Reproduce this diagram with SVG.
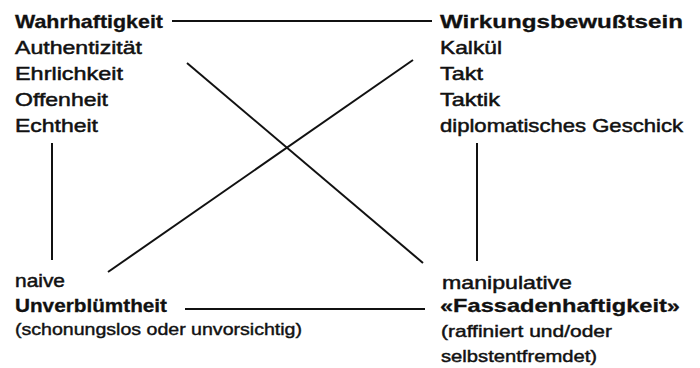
<svg xmlns="http://www.w3.org/2000/svg" width="700" height="368" viewBox="0 0 700 368">
<style>
text{font-family:"Liberation Sans",Arial,Helvetica,sans-serif;fill:#111;}
.b{font-size:19px;font-weight:bold;stroke:#111;stroke-width:0.3;}
.r{font-size:19px;stroke:#111;stroke-width:0.5;}
.s{font-size:16px;stroke:#111;stroke-width:0.4;}
.m{font-size:17px;stroke:#111;stroke-width:0.45;}
.c line{stroke:#111;stroke-width:2;stroke-linecap:butt;}
</style>
<rect width="700" height="368" fill="#fff"/>
<g id="wahrhaftigkeit">
<text class="b" x="15" y="28" textLength="148" lengthAdjust="spacingAndGlyphs">Wahrhaftigkeit</text>
<text class="r" x="15" y="54" textLength="127" lengthAdjust="spacingAndGlyphs">Authentizität</text>
<text class="r" x="15" y="80" textLength="108" lengthAdjust="spacingAndGlyphs">Ehrlichkeit</text>
<text class="r" x="15" y="106" textLength="93" lengthAdjust="spacingAndGlyphs">Offenheit</text>
<text class="r" x="15" y="132" textLength="83" lengthAdjust="spacingAndGlyphs">Echtheit</text>
</g>
<g id="wirkungsbewusstsein">
<text class="b" x="440" y="28" textLength="243" lengthAdjust="spacingAndGlyphs">Wirkungsbewußtsein</text>
<text class="r" x="440" y="54" textLength="62" lengthAdjust="spacingAndGlyphs">Kalkül</text>
<text class="r" x="440" y="80" textLength="43" lengthAdjust="spacingAndGlyphs">Takt</text>
<text class="r" x="440" y="106" textLength="60" lengthAdjust="spacingAndGlyphs">Taktik</text>
<text class="r" x="440" y="132" textLength="243" lengthAdjust="spacingAndGlyphs">diplomatisches Geschick</text>
</g>
<g id="unverbluemtheit">
<text class="r" x="15" y="287" textLength="50" lengthAdjust="spacingAndGlyphs">naive</text>
<text class="b" x="15" y="312" textLength="152" lengthAdjust="spacingAndGlyphs">Unverblümtheit</text>
<text class="s" x="15" y="335" textLength="287" lengthAdjust="spacingAndGlyphs">(schonungslos oder unvorsichtig)</text>
</g>
<g id="fassadenhaftigkeit">
<text class="r" x="442" y="289" textLength="130" lengthAdjust="spacingAndGlyphs">manipulative</text>
<text class="b" x="440" y="312" textLength="240" lengthAdjust="spacingAndGlyphs">«Fassadenhaftigkeit»</text>
<text class="m" x="441" y="337" textLength="171" lengthAdjust="spacingAndGlyphs">(raffiniert und/oder</text>
<text class="m" x="441" y="362" textLength="156" lengthAdjust="spacingAndGlyphs">selbstentfremdet)</text>
</g>
<g id="connectors" class="c">
<line x1="172" y1="21" x2="432" y2="21"/>
<line x1="185" y1="309" x2="425" y2="309"/>
<line x1="52" y1="143" x2="52" y2="260"/>
<line x1="477" y1="143" x2="477" y2="261"/>
<line x1="187" y1="63" x2="423" y2="263"/>
<line x1="108" y1="272" x2="413" y2="60"/>
</g>
</svg>
